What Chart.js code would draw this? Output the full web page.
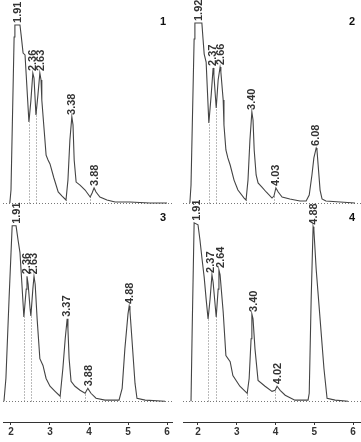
<!DOCTYPE html>
<html>
<head>
<meta charset="utf-8">
<script src="https://cdn.jsdelivr.net/npm/chart.js@4"></script>
<style>
  html, body { margin: 0; padding: 0; background: #fff; }
  canvas { position: absolute; }
</style>
</head>
<body>
<canvas id="p1" width="180" height="210" style="left:0;top:0"></canvas>
<canvas id="p2" width="181" height="210" style="left:180px;top:0"></canvas>
<canvas id="p3" width="180" height="242" style="left:0;top:200px"></canvas>
<canvas id="p4" width="181" height="242" style="left:180px;top:200px"></canvas>
<script>
// retention time axis (min)
const xTicks = [2, 3, 4, 5, 6];

// chromatogram 1
const time1 = [1.97, 2.00, 2.08, 2.10, 2.23, 2.26, 2.31, 2.36, 2.39, 2.46, 2.51, 2.56, 2.59, 2.64, 2.69, 2.74, 2.77, 2.79, 2.85, 2.90, 2.95, 3.00, 3.10, 3.21, 3.31, 3.41, 3.46, 3.51, 3.56, 3.59, 3.62, 3.67, 3.77, 3.90, 4.03, 4.08, 4.13, 4.18, 4.28, 4.46, 4.67, 5.05, 5.56, 6.00];
const signal1 = [0, 7.3, 93.5, 100.3, 100.3, 94.6, 84.5, 83.4, 72.1, 45.6, 57.7, 73.2, 70.4, 49.6, 60.8, 73.2, 69.3, 58.0, 41.1, 27.0, 24.2, 22.0, 14.1, 6.2, 3.9, 1.7, 12.9, 35.5, 48.5, 44.0, 24.2, 11.8, 10.1, 7.3, 3.4, 5.6, 8.5, 6.2, 3.4, 1.7, 0.6, 0.6, 0, 0];
const peaks1 = ["1.91", "2.36", "2.63", "3.38", "3.88"];
const peakAt1 = [2.18, 2.56, 2.77, 3.56, 4.15];
const valleys1 = [2.46, 2.63, 3.41, 4.03];

// chromatogram 2
const time2 = [1.79, 1.82, 1.90, 1.92, 2.10, 2.13, 2.16, 2.21, 2.28, 2.34, 2.39, 2.41, 2.47, 2.52, 2.57, 2.59, 2.65, 2.67, 2.72, 2.77, 2.83, 2.93, 3.03, 3.19, 3.24, 3.29, 3.34, 3.39, 3.42, 3.45, 3.50, 3.55, 3.65, 3.76, 3.91, 3.96, 4.01, 4.07, 4.17, 4.37, 4.63, 4.79, 4.87, 4.94, 4.99, 5.05, 5.07, 5.10, 5.15, 5.20, 5.30, 5.67, 6.05];
const signal2 = [0, 10.1, 92.4, 101.4, 101.4, 92.4, 83.9, 79.4, 45.1, 60.8, 76.1, 72.1, 53.5, 69.3, 76.6, 73.8, 58.0, 43.9, 29.9, 25.4, 21.4, 12.9, 7.3, 2.8, 1.7, 12.9, 35.5, 51.3, 46.8, 29.9, 15.8, 11.3, 9.0, 6.2, 2.8, 3.9, 8.5, 6.2, 3.4, 2.3, 1.1, 1.1, 4.5, 15.8, 25.4, 31.0, 29.9, 21.4, 7.3, 2.3, 1.1, 0.6, 0];
const peaks2 = ["1.92", "2.37", "2.66", "3.40", "4.03", "6.08"];
const peakAt2 = [2.03, 2.39, 2.59, 3.39, 4.01, 5.05];
const valleys2 = [2.28, 2.47, 3.24, 3.96];

// chromatogram 3
const time3 = [1.82, 1.87, 1.95, 2.03, 2.13, 2.18, 2.23, 2.28, 2.33, 2.39, 2.41, 2.44, 2.49, 2.51, 2.56, 2.59, 2.62, 2.67, 2.74, 2.82, 2.90, 3.00, 3.13, 3.26, 3.33, 3.39, 3.44, 3.46, 3.49, 3.54, 3.64, 3.77, 3.90, 3.97, 4.05, 4.18, 4.41, 4.77, 4.85, 4.92, 5.00, 5.03, 5.05, 5.10, 5.18, 5.23, 5.44, 5.95];
const signal3 = [0, 13.0, 58.0, 99.7, 99.7, 91.8, 84.5, 66.5, 47.9, 63.7, 71.0, 66.5, 52.4, 48.5, 63.7, 71.0, 66.5, 46.8, 24.2, 20.3, 12.9, 8.5, 5.6, 2.8, 18.6, 35.5, 46.8, 41.1, 24.2, 11.3, 8.5, 6.2, 4.5, 7.3, 4.5, 1.7, 0.6, 0.6, 7.3, 29.9, 49.6, 54.1, 51.3, 35.5, 10.1, 1.7, 0.6, 0];
const peaks3 = ["1.91", "2.36", "2.63", "3.37", "3.88", "4.88"];
const peakAt3 = [2.15, 2.41, 2.59, 3.44, 4.00, 5.05];
const valleys3 = [2.33, 2.51, 3.26, 3.90];

// chromatogram 4
const time4 = [1.82, 1.85, 1.90, 2.00, 2.05, 2.10, 2.16, 2.21, 2.26, 2.31, 2.36, 2.39, 2.47, 2.52, 2.54, 2.57, 2.65, 2.72, 2.83, 2.90, 3.08, 3.27, 3.32, 3.37, 3.39, 3.42, 3.47, 3.55, 3.73, 3.91, 3.99, 4.04, 4.12, 4.25, 4.50, 4.84, 4.87, 4.92, 4.97, 4.99, 5.05, 5.15, 5.25, 5.33, 5.54, 5.87];
const signal4 = [0, 41.1, 101.4, 100.3, 91.8, 81.7, 70.4, 58.0, 46.8, 57.7, 71.8, 67.6, 47.9, 63.7, 74.6, 71.8, 50.7, 25.9, 22.5, 14.6, 8.5, 4.5, 12.9, 35.5, 49.6, 46.8, 29.9, 11.8, 8.5, 5.6, 6.2, 8.5, 6.2, 3.4, 0.6, 0.6, 4.5, 58.0, 99.2, 97.5, 74.9, 46.8, 18.6, 1.7, 0.6, 0];
const peaks4 = ["1.91", "2.37", "2.64", "3.40", "4.02", "4.88"];
const peakAt4 = [1.97, 2.34, 2.59, 3.45, 4.06, 4.99];
const valleys4 = [2.26, 2.47, 3.27, 3.99];

const FONT = '"Liberation Sans", Arial, sans-serif';

function interp(xs, ys, v) {
  for (let i = 1; i < xs.length; i++) {
    if (xs[i] >= v) {
      const t = (v - xs[i - 1]) / (xs[i] - xs[i - 1]);
      return ys[i - 1] + t * (ys[i] - ys[i - 1]);
    }
  }
  return 0;
}

function apex(xs, ys, v) {
  let best = 0;
  xs.forEach((t, i) => { if (Math.abs(t - v) <= 0.1 && ys[i] > best) best = ys[i]; });
  return best;
}

function chromPlugin(p) {
  return {
    id: 'chrom',
    beforeDatasetsDraw(chart) {
      const {ctx, chartArea, scales: {x, y}} = chart;
      const y0 = Math.round(y.getPixelForValue(0)) + 0.5;
      ctx.save();
      ctx.strokeStyle = '#777';
      ctx.lineWidth = 1;
      ctx.setLineDash([1, 2]);
      ctx.beginPath();
      ctx.moveTo(chartArea.left, y0);
      ctx.lineTo(chartArea.right, y0);
      ctx.stroke();
      // drop lines at the valleys
      p.valleys.forEach(v => {
        const px = Math.round(x.getPixelForValue(v)) + 0.5;
        ctx.beginPath();
        ctx.moveTo(px, y0);
        ctx.lineTo(px, y.getPixelForValue(interp(p.time, p.signal, v)));
        ctx.stroke();
      });
      ctx.restore();
    },
    afterDatasetsDraw(chart) {
      const {ctx, chartArea, scales: {x, y}} = chart;
      ctx.save();
      ctx.fillStyle = '#333';
      ctx.font = 'bold 11px ' + FONT;
      ctx.textAlign = 'left';
      ctx.textBaseline = 'middle';
      p.peaks.forEach((lab, i) => {
        const px = x.getPixelForValue(p.peakAt[i]);
        const py = y.getPixelForValue(apex(p.time, p.signal, p.peakAt[i])) - 2;
        ctx.save();
        ctx.translate(px, py);
        ctx.rotate(-Math.PI / 2);
        ctx.fillText(lab, 0, 0);
        ctx.restore();
      });
      ctx.fillStyle = '#111';
      ctx.font = 'bold 11px ' + FONT;
      ctx.textAlign = 'center';
      ctx.fillText(p.num, chartArea.right - 9, chartArea.top + p.numY);
      ctx.restore();
    }
  };
}

function makePanel(id, p) {
  new Chart(document.getElementById(id), {
    type: 'line',
    data: {
      datasets: [{
        data: p.time.map((t, i) => ({x: t, y: p.signal[i]})),
        borderColor: '#444',
        borderWidth: 1.1,
        pointRadius: 0,
        tension: 0,
        clip: false
      }]
    },
    options: {
      responsive: false,
      animation: false,
      events: [],
      layout: {padding: {left: 3, right: p.padRight, top: 0, bottom: p.axis ? 3 : 0}},
      plugins: {legend: {display: false}, tooltip: {enabled: false}},
      scales: {
        x: {
          type: 'linear',
          min: p.xMin,
          max: p.xMax,
          display: p.axis,
          afterBuildTicks: s => { s.ticks = xTicks.map(v => ({value: v})); },
          grid: {drawOnChartArea: false, tickLength: 3, color: '#333'},
          border: {display: true, color: '#333', width: 1},
          ticks: {color: '#333', padding: 1, maxRotation: 0, autoSkip: false,
                  font: {size: 10, weight: 'bold', family: FONT}}
        },
        y: {display: false, min: p.axis ? -11.83 : -3.94, max: 114.37}
      }
    },
    plugins: [chromPlugin(p)]
  });
}

const left = {xMin: 1.795, xMax: 6.128, padRight: 8};
const right = {xMin: 1.613, xMax: 6.206, padRight: 0};

makePanel('p1', Object.assign({time: time1, signal: signal1, peaks: peaks1, peakAt: peakAt1, valleys: valleys1, num: '1', numY: 22, axis: false}, left));
makePanel('p2', Object.assign({time: time2, signal: signal2, peaks: peaks2, peakAt: peakAt2, valleys: valleys2, num: '2', numY: 22, axis: false}, right));
makePanel('p3', Object.assign({time: time3, signal: signal3, peaks: peaks3, peakAt: peakAt3, valleys: valleys3, num: '3', numY: 18, axis: true}, left));
makePanel('p4', Object.assign({time: time4, signal: signal4, peaks: peaks4, peakAt: peakAt4, valleys: valleys4, num: '4', numY: 18, axis: true}, right));
</script>
</body>
</html>
